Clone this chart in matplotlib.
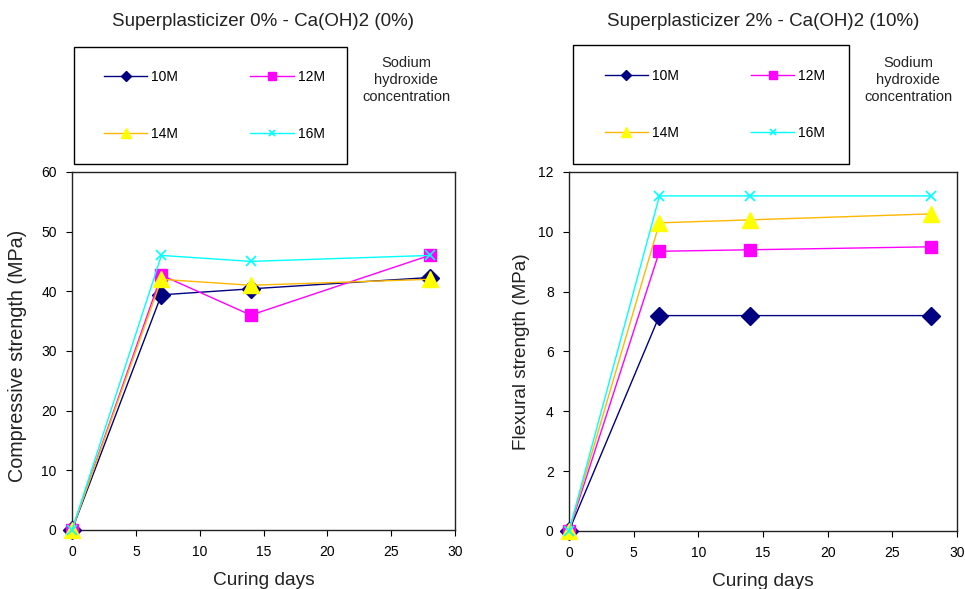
import numpy as np
import matplotlib.pyplot as plt
import matplotlib as mpl
from matplotlib import patches

mpl.rcParams['font.family'] = ['Liberation Sans', 'DejaVu Sans']
mpl.rcParams['xtick.direction'] = 'out'
mpl.rcParams['ytick.direction'] = 'out'

days = [0, 7, 14, 28]
labels = ['10M', '12M', '14M', '16M']

# compressive strength (MPa), superplasticizer 0% - Ca(OH)2 0%
comp_10 = [0, 39.4, 40.4, 42.3]
comp_12 = [0, 42.7, 36.0, 46.0]
comp_14 = [0, 42.0, 41.0, 42.0]
comp_16 = [0, 46.0, 45.0, 46.0]

# flexural strength (MPa), superplasticizer 2% - Ca(OH)2 10%
flex_10 = [0, 7.2, 7.2, 7.2]
flex_12 = [0, 9.35, 9.4, 9.5]
flex_14 = [0, 10.3, 10.4, 10.6]
flex_16 = [0, 11.2, 11.2, 11.2]

styles = [
    dict(color='#000080', marker='D', mfc='#000080', mec='#000080', ms=9),
    dict(color='#FF00FF', marker='s', mfc='#FF00FF', mec='#FF00FF', ms=8.5),
    dict(color='#FFB800', marker='^', mfc='#FFFF00', mec='#FFFF00', ms=11),
    dict(color='#00FFFF', marker='x', mfc='#00FFFF', mec='#00FFFF', ms=7, mew=1.2),
]

fig = plt.figure(figsize=(9.65, 5.89), dpi=100)
ax1 = fig.add_axes([0.0746, 0.1002, 0.397, 0.608])
ax2 = fig.add_axes([0.5896, 0.0985, 0.402, 0.6095])


def panel(ax, series, ymax, ystep, ylabel, ylab_fs, ylab_xy, title, title_x, box, txt_x):
    lines = []
    for vals, lab, st in zip(series, labels, styles):
        ln, = ax.plot(days, vals, lw=1.0, label=lab, clip_on=False, zorder=3, **st)
        lines.append(ln)
    ax.set_xlim(0, 30)
    ax.set_ylim(0, ymax)
    ax.set_xticks(np.arange(0, 31, 5))
    ax.set_yticks(np.arange(0, ymax + 0.1, ystep))
    ax.tick_params(labelsize=10, length=4, width=0.8, pad=7)
    for s in ax.spines.values():
        s.set_linewidth(1.0)
        s.set_color('#222222')
    ax.set_xlabel('Curing days', fontsize=13.8, labelpad=9, color='#222222')
    ax.set_ylabel(ylabel, fontsize=ylab_fs, color='#222222')
    ax.yaxis.set_label_coords(*ylab_xy)
    x0, y0, w, h = box
    fig.patches.append(patches.Rectangle((x0, y0), w, h, transform=fig.transFigure,
                                         fill=False, ec='black', lw=1.0))
    fig.text(title_x, 0.964, title, ha='center', va='center', fontsize=13.5,
             color='#222222')
    # row-wise order: 10M 12M / 14M 16M
    order = [0, 2, 1, 3]
    ax.legend([lines[i] for i in order], [labels[i] for i in order],
              loc='center', bbox_to_anchor=(x0 + w / 2 + 0.004, y0 + h / 2),
              bbox_transform=fig.transFigure, ncol=2, frameon=False, fontsize=10,
              markerscale=0.6, handlelength=3.1, handletextpad=0.3,
              columnspacing=5.2, labelspacing=3.1)
    fig.text(txt_x, 0.864, 'Sodium\nhydroxide\nconcentration', ha='center', va='center',
             fontsize=10.5, linespacing=1.27, color='#222222')


panel(ax1, [comp_10, comp_12, comp_14, comp_16], 60, 10,
      'Compressive strength (MPa)', 14.2, (-0.1175, 0.486),
      'Superplasticizer 0% - Ca(OH)2 (0%)', 263 / 965,
      (0.0767, 0.7216, 0.283, 0.1986), 406 / 965)
panel(ax2, [flex_10, flex_12, flex_14, flex_16], 12, 2,
      'Flexural strength (MPa)', 13.6, (-0.1005, 0.4986),
      'Superplasticizer 2% - Ca(OH)2 (10%)', 763 / 965,
      (0.594, 0.7216, 0.286, 0.2020), 908 / 965)

fig.savefig('out.png', dpi=100)
